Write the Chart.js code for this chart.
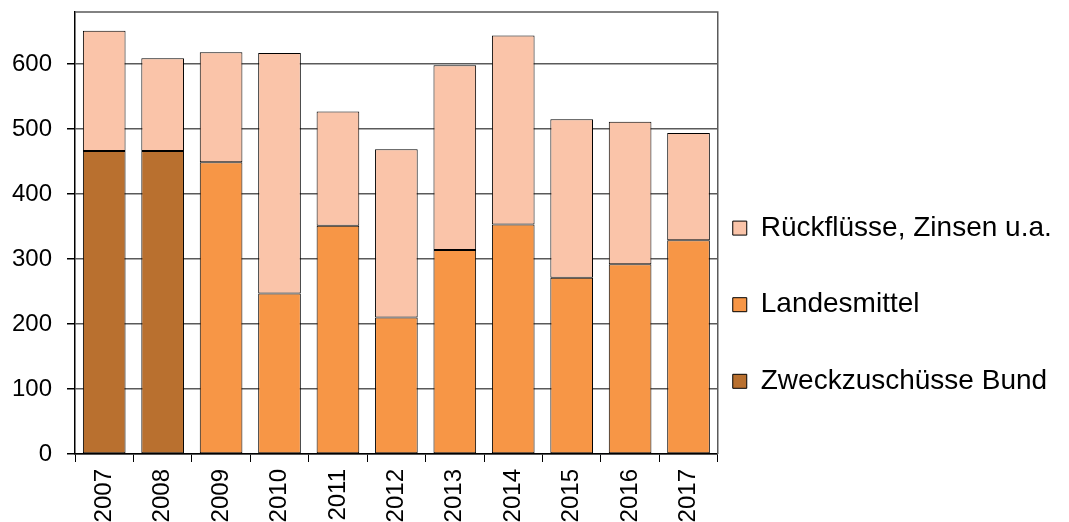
<!DOCTYPE html>
<html>
<head>
<meta charset="utf-8">
<style>
  html, body { margin: 0; padding: 0; background: #ffffff; }
  #wrap { width: 1069px; height: 522px; }
</style>
<script src="https://cdn.jsdelivr.net/npm/chart.js@4/dist/chart.umd.min.js"></script>
</head>
<body>
<div id="wrap"><canvas id="chart" width="1069" height="522"></canvas></div>
<script>
// Jahre (Kategorien)
const years = ['2007', '2008', '2009', '2010', '2011', '2012', '2013', '2014', '2015', '2016', '2017'];

// Mittel je Jahr, gestapelt (Mio. €)
const zweckzuschuesseBund = [466, 466, 0, 0, 0, 0, 0, 0, 0, 0, 0];
const landesmittel        = [0, 0, 449, 247, 351, 210, 314, 353, 271, 292, 329];
const rueckfluesse        = [185, 143, 169, 370, 176, 259, 284, 291, 244, 219, 165];

// Beschriftung der Reihen
const seriesNames = ['Zweckzuschüsse Bund', 'Landesmittel', 'Rückflüsse, Zinsen u.a.'];
const seriesColors = ['#B9702F', '#F79646', '#FAC4A9'];

// Werte der y-Achse
const yTicks = [0, 100, 200, 300, 400, 500, 600];
const yMax = 680;

const FONT = 'Liberation Sans, Arial, sans-serif';

// Rahmen oben und rechts um die Zeichenfläche
const plotFrame = {
  id: 'plotFrame',
  afterDatasetsDraw(chart) {
    const { ctx, chartArea: a } = chart;
    ctx.save();
    ctx.strokeStyle = '#5a5a5a';
    ctx.lineWidth = 1.5;
    ctx.beginPath();
    ctx.moveTo(a.left, a.top);
    ctx.lineTo(a.right, a.top);
    ctx.lineTo(a.right, a.bottom);
    ctx.stroke();
    ctx.restore();
  }
};

// Legendenfläche bis an den rechten Rand ausdehnen, damit lange Texte nicht abgeschnitten werden
const legendToEdge = {
  id: 'legendToEdge',
  afterLayout(chart) {
    const lg = chart.legend;
    if (lg) {
      lg.right = chart.width;
      lg.width = lg.right - lg.left;
    }
  }
};

const seriesData = [zweckzuschuesseBund, landesmittel, rueckfluesse];

new Chart(document.getElementById('chart'), {
  type: 'bar',
  data: {
    labels: years,
    datasets: seriesData.map((values, i) => ({
      label: seriesNames[i],
      data: values,
      backgroundColor: seriesColors[i],
      borderColor: '#000000',
      borderWidth: 1,
      borderSkipped: false,
      barPercentage: 0.73,
      categoryPercentage: 1.0
    }))
  },
  options: {
    responsive: false,
    animation: false,
    devicePixelRatio: 1,
    layout: { padding: { left: 12, right: 116, top: 12, bottom: 0 } },
    plugins: {
      tooltip: { enabled: false },
      legend: {
        position: 'right',
        reverse: true,
        align: 'center',
        title: {
          display: true,
          text: ' ',
          font: { family: FONT, size: 10, lineHeight: 1 },
          padding: { top: 0, bottom: 99 }
        },
        labels: {
          color: '#000000',
          boxWidth: 14,
          boxHeight: 14,
          padding: 15,
          font: { family: FONT, size: 28, lineHeight: 2.2 },
          generateLabels(chart) {
            const items = Chart.defaults.plugins.legend.labels.generateLabels(chart);
            items.forEach(it => { it.text = [it.text]; it.lineWidth = 1; });
            return items;
          }
        }
      }
    },
    scales: {
      x: {
        stacked: true,
        afterFit(scale) { scale.height = 68; },
        grid: {
          display: true,
          drawOnChartArea: false,
          drawTicks: true,
          tickLength: 8,
          color: '#000000',
          offset: true
        },
        border: { display: true, color: '#000000', width: 1.5 },
        ticks: {
          autoSkip: false,
          minRotation: 90,
          maxRotation: 90,
          padding: 7,
          color: '#000000',
          font: { family: FONT, size: 24 }
        }
      },
      y: {
        stacked: true,
        min: 0,
        max: yMax,
        afterBuildTicks(scale) {
          scale.ticks = yTicks.map(v => ({ value: v }));
        },
        afterFit(scale) {
          scale.width = 63;
          scale.paddingTop = 0;
          scale.paddingBottom = 0;
        },
        grid: {
          color: '#5a5a5a',
          lineWidth: 1.5,
          drawTicks: true,
          tickLength: 8,
          tickColor: '#000000'
        },
        border: { display: true, color: '#000000', width: 1.5 },
        ticks: {
          padding: 15,
          color: '#000000',
          font: { family: FONT, size: 24 }
        }
      }
    }
  },
  plugins: [plotFrame, legendToEdge]
});
</script>
</body>
</html>
